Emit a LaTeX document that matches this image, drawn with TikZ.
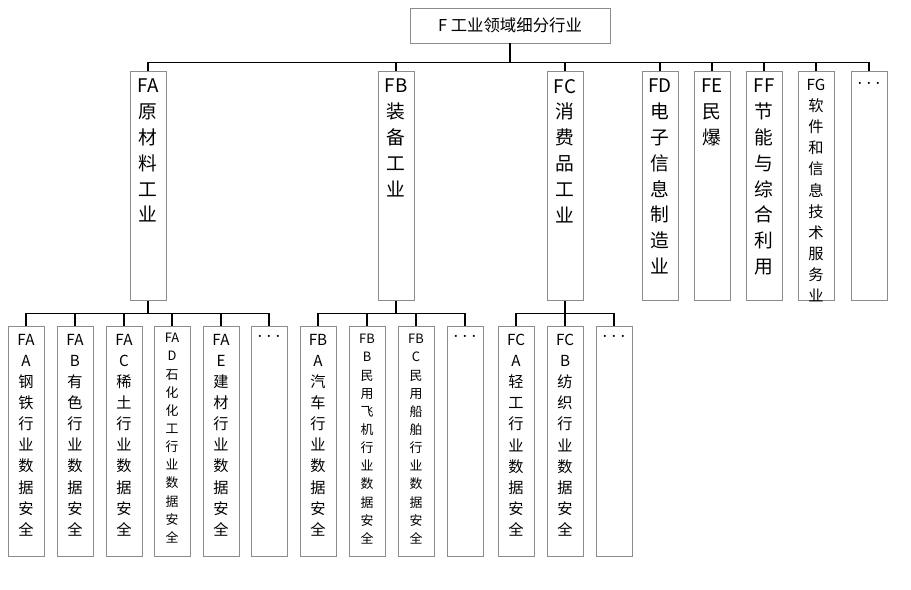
\documentclass[tikz,border=0pt]{standalone}
\usepackage{fontspec}
\setmainfont{Noto Sans CJK SC}
\tikzset{
	box/.style={draw=black!45,line width=.7pt,minimum width=36*0.03cm,inner sep=0pt,anchor=north},
	lbl/.style={anchor=north,align=center,inner sep=0pt},
	big/.style={font=\fontsize{16}{22}\selectfont},
	mid/.style={font=\fontsize{13}{18}\selectfont},
	sml/.style={font=\fontsize{11}{15.5}\selectfont},
	link/.style={line width=1pt},
}
\begin{document}
\begin{tikzpicture}[x=0.03cm,y=-0.03cm]
	\useasboundingbox (0,0) rectangle (911,590);
	% root
	\node[draw=black!45,line width=.7pt,minimum width=200*0.03cm,minimum height=35*0.03cm,font=\fontsize{14}{18}\selectfont] (root) at (510,25.5) {F 工业领域细分行业};

	% second level
	\begin{scope}[every node/.append style={minimum height=229*0.03cm}]
		\node[box] (fa) at (148,71) {};
		\node[box] (fb) at (396,71) {};
		\node[box] (fc) at (565,71) {};
		\node[box] (fd) at (660,71) {};
		\node[box] (fe) at (712,71) {};
		\node[box] (ff) at (764,71) {};
		\node[box] (fg) at (816,71) {};
		\node[box] (fx) at (869,71) {};
	\end{scope}
	\node[lbl,big] (tfa) at ([yshift=-8*0.03cm]fa.north) {FA\\原\\材\\料\\工\\业};
	\node[lbl,big] (tfb) at ([yshift=-8*0.03cm]fb.north) {FB\\装\\备\\工\\业};
	\node[lbl,big] (tfc) at ([yshift=-8*0.03cm]fc.north) {FC\\消\\费\\品\\工\\业};
	\node[lbl,big] (tfd) at ([yshift=-8*0.03cm]fd.north) {FD\\电\\子\\信\\息\\制\\造\\业};
	\node[lbl,big] (tfe) at ([yshift=-8*0.03cm]fe.north) {FE\\民\\爆};
	\node[lbl,big] (tff) at ([yshift=-8*0.03cm]ff.north) {FF\\节\\能\\与\\综\\合\\利\\用};
	\node[lbl,mid] (tfg) at ([yshift=-8*0.03cm]fg.north) {FG\\软\\件\\和\\信\\息\\技\\术\\服\\务\\业};
	\node[lbl,big] (tfx) at ([yshift=-8*0.03cm]fx.north) {$\cdots$};

	\foreach \c in {fa,fb,fc,fd,fe,ff,fg,fx}
		\draw[link] (root.south) -- ++(0,19) -| (\c.north);

	% third level
	\begin{scope}[every node/.append style={minimum height=230*0.03cm}]
		\node[box] (faa) at (26,326) {};
		\node[box] (fab) at (75,326) {};
		\node[box] (fac) at (124,326) {};
		\node[box] (fad) at (172,326) {};
		\node[box] (fae) at (221,326) {};
		\node[box] (fax) at (269,326) {};
		\node[box] (fba) at (318,326) {};
		\node[box] (fbb) at (367,326) {};
		\node[box] (fbc) at (416,326) {};
		\node[box] (fbx) at (465,326) {};
		\node[box] (fca) at (516,326) {};
		\node[box] (fcb) at (565,326) {};
		\node[box] (fcx) at (614,326) {};
	\end{scope}
	\node[lbl,mid] (tfaa) at ([yshift=-8*0.03cm]faa.north) {FA\\A\\钢\\铁\\行\\业\\数\\据\\安\\全};
	\node[lbl,mid] (tfab) at ([yshift=-8*0.03cm]fab.north) {FA\\B\\有\\色\\行\\业\\数\\据\\安\\全};
	\node[lbl,mid] (tfac) at ([yshift=-8*0.03cm]fac.north) {FA\\C\\稀\\土\\行\\业\\数\\据\\安\\全};
	\node[lbl,sml] (tfad) at ([yshift=-7*0.03cm]fad.north) {FA\\D\\石\\化\\化\\工\\行\\业\\数\\据\\安\\全};
	\node[lbl,mid] (tfae) at ([yshift=-8*0.03cm]fae.north) {FA\\E\\建\\材\\行\\业\\数\\据\\安\\全};
	\node[lbl,big] (tfax) at ([yshift=-6*0.03cm]fax.north) {$\cdots$};
	\node[lbl,mid] (tfba) at ([yshift=-8*0.03cm]fba.north) {FB\\A\\汽\\车\\行\\业\\数\\据\\安\\全};
	\node[lbl,sml] (tfbb) at ([yshift=-8*0.03cm]fbb.north) {FB\\B\\民\\用\\飞\\机\\行\\业\\数\\据\\安\\全};
	\node[lbl,sml] (tfbc) at ([yshift=-8*0.03cm]fbc.north) {FB\\C\\民\\用\\船\\舶\\行\\业\\数\\据\\安\\全};
	\node[lbl,big] (tfbx) at ([yshift=-6*0.03cm]fbx.north) {$\cdots$};
	\node[lbl,mid] (tfca) at ([yshift=-8*0.03cm]fca.north) {FC\\A\\轻\\工\\行\\业\\数\\据\\安\\全};
	\node[lbl,mid] (tfcb) at ([yshift=-8*0.03cm]fcb.north) {FC\\B\\纺\\织\\行\\业\\数\\据\\安\\全};
	\node[lbl,big] (tfcx) at ([yshift=-6*0.03cm]fcx.north) {$\cdots$};

	\foreach \c in {faa,fab,fac,fad,fae,fax}
		\draw[link] (fa.south) -- ++(0,13) -| (\c.north);
	\foreach \c in {fba,fbb,fbc,fbx}
		\draw[link] (fb.south) -- ++(0,13) -| (\c.north);
	\foreach \c in {fca,fcb,fcx}
		\draw[link] (fc.south) -- ++(0,13) -| (\c.north);
\end{tikzpicture}
\end{document}
